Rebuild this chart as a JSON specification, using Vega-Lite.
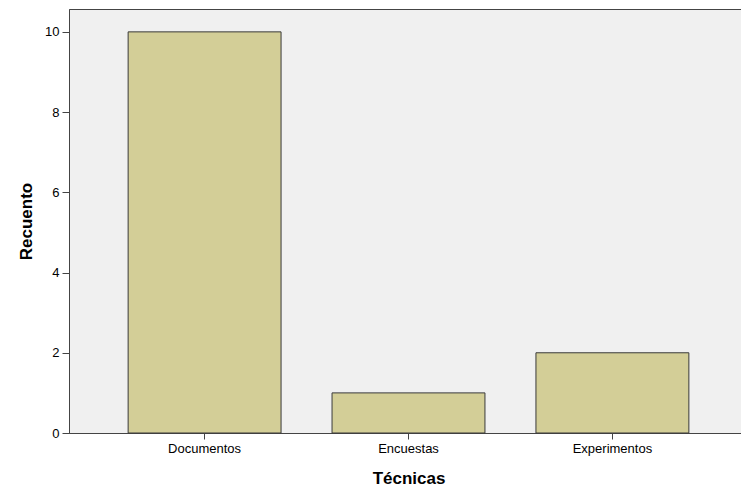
{
  "$schema": "https://vega.github.io/schema/vega-lite/v6.json",
  "autosize": "none",
  "padding": {"left": 69, "top": 9, "right": 0, "bottom": 56},
  "width": 679,
  "height": 424,
  "background": "#ffffff",
  "config": {
    "view": {"fill": "#f0f0f0", "stroke": "#444444", "strokeWidth": 1},
    "font": "Liberation Sans"
  },
  "data": {
    "values": [
      {"Tecnicas": "Documentos", "Recuento": 10},
      {"Tecnicas": "Encuestas", "Recuento": 1},
      {"Tecnicas": "Experimentos", "Recuento": 2}
    ]
  },
  "mark": {"type": "bar", "fill": "#d3ce97", "stroke": "#3a3a3a", "strokeWidth": 1},
  "encoding": {
    "x": {
      "field": "Tecnicas",
      "type": "nominal",
      "sort": ["Documentos", "Encuestas", "Experimentos"],
      "scale": {"paddingInner": 0.25, "paddingOuter": 0.29},
      "axis": {
        "title": "Técnicas",
        "labelAngle": 0,
        "labelFont": "Liberation Sans",
        "labelFontSize": 13,
        "labelColor": "#000000",
        "labelPadding": 3,
        "tickSize": 6,
        "tickColor": "#444444",
        "domainColor": "#444444",
        "titleFont": "Liberation Sans",
        "titleFontSize": 17,
        "titleFontWeight": "bold",
        "titleColor": "#000000",
        "titlePadding": 15,
        "titleLimit": 300
      }
    },
    "y": {
      "field": "Recuento",
      "type": "quantitative",
      "scale": {"domain": [0, 10.57], "nice": false},
      "axis": {
        "title": "Recuento",
        "values": [0, 2, 4, 6, 8, 10],
        "grid": false,
        "labelFont": "Liberation Sans",
        "labelFontSize": 13,
        "labelColor": "#000000",
        "labelPadding": 3,
        "tickSize": 7,
        "tickColor": "#444444",
        "domainColor": "#444444",
        "titleFont": "Liberation Sans",
        "titleFontSize": 17,
        "titleFontWeight": "bold",
        "titleColor": "#000000",
        "titlePadding": 9
      }
    }
  }
}
